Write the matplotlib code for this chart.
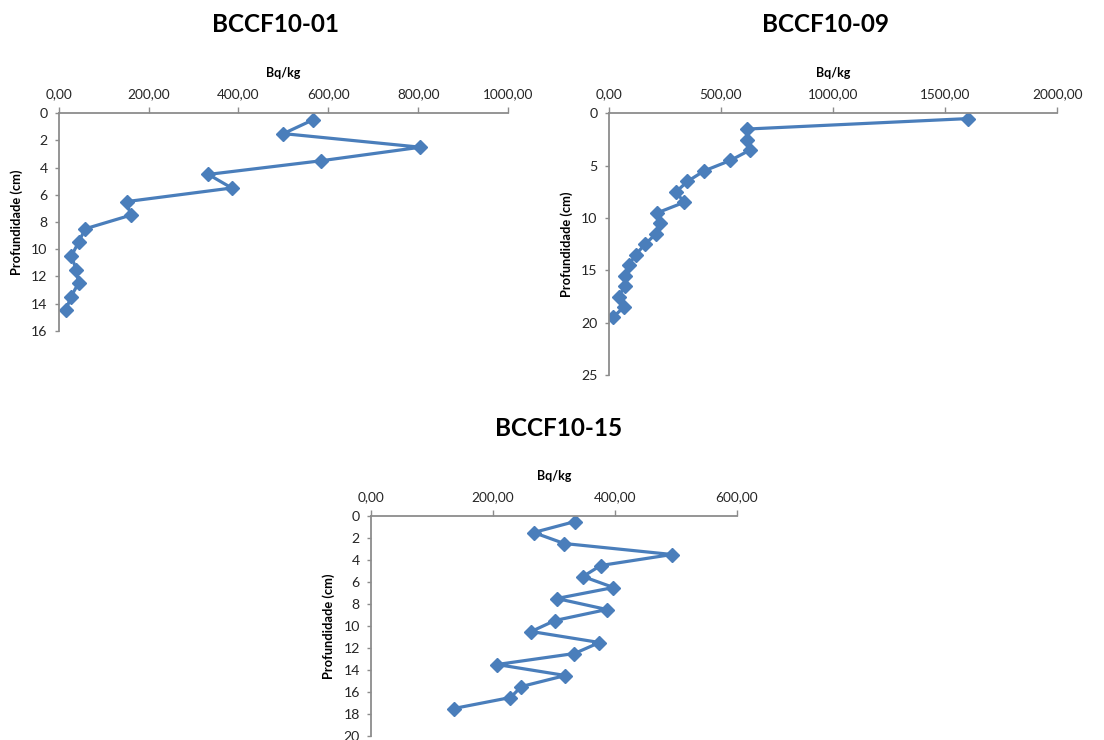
import matplotlib
matplotlib.use("Agg")
import matplotlib.pyplot as plt
from matplotlib.ticker import FuncFormatter, MultipleLocator

plt.rcParams['font.family'] = ['Lato', 'DejaVu Sans']

# depth (cm) and activity (Bq/kg) per core
depth_01 = [0.5, 1.5, 2.5, 3.5, 4.5, 5.5, 6.5, 7.5, 8.5, 9.5, 10.5, 11.5, 12.5, 13.5, 14.5]
bq_01 = [565, 500, 805, 583, 333, 385, 151, 160, 59, 44, 28, 39, 44, 27, 16]

depth_09 = [0.5, 1.5, 2.5, 3.5, 4.5, 5.5, 6.5, 7.5, 8.5, 9.5, 10.5, 11.5, 12.5, 13.5,
            14.5, 15.5, 16.5, 17.5, 18.5, 19.5]
bq_09 = [1600, 615, 615, 630, 542, 425, 351, 300, 336, 217, 229, 211, 162, 120,
         89, 74, 71, 45, 68, 18]

depth_15 = [0.5, 1.5, 2.5, 3.5, 4.5, 5.5, 6.5, 7.5, 8.5, 9.5, 10.5, 11.5, 12.5, 13.5,
            14.5, 15.5, 16.5, 17.5]
bq_15 = [335, 267, 317, 494, 377, 348, 398, 305, 387, 302, 263, 375, 334, 207,
         319, 247, 229, 136]

BLUE = '#4a7ebb'
GREY = '#8c8c8c'

comma_fmt = FuncFormatter(lambda v, p: f"{v:.2f}".replace('.', ','))

fig = plt.figure(figsize=(11.04, 7.4), dpi=100)


def profile(rect, x, y, xmax, xstep, ymax, ystep, title, title_xy):
    ax = fig.add_axes(rect)
    ax.plot(x, y, color=BLUE, lw=2.3, marker='D', ms=7, mec=BLUE, mfc=BLUE)
    ax.set_xlim(0, xmax)
    ax.set_ylim(ymax, 0)
    ax.xaxis.set_major_locator(MultipleLocator(xstep))
    ax.yaxis.set_major_locator(MultipleLocator(ystep))
    ax.xaxis.set_major_formatter(comma_fmt)
    ax.xaxis.tick_top()
    ax.xaxis.set_label_position('top')
    for s in ['right', 'bottom']:
        ax.spines[s].set_visible(False)
    for s in ['top', 'left']:
        ax.spines[s].set_color(GREY)
        ax.spines[s].set_linewidth(1.3)
    ax.tick_params(axis='x', length=4.5, width=1, color=GREY, pad=5,
                   labelsize=9.8, labelcolor='#262626')
    ax.tick_params(axis='y', length=3, width=1, color=GREY, pad=5,
                   labelsize=10.2, labelcolor='#262626')
    ax.set_xlabel('Bq/kg', fontsize=9, fontweight='bold', labelpad=8)
    ax.set_ylabel('Profundidade (cm)', fontsize=9.3, fontweight='bold', labelpad=6)
    fig.text(title_xy[0], title_xy[1], title, fontsize=17.5, fontweight='bold',
             ha='center', va='center')
    return ax


profile([0.0532, 0.553, 0.407, 0.294], bq_01, depth_01, 1000, 200, 16, 2,
        'BCCF10-01', (276 / 1104, 1 - 24 / 740))
profile([0.5514, 0.4932, 0.4063, 0.3536], bq_09, depth_09, 2000, 500, 25, 5,
        'BCCF10-09', (826 / 1104, 1 - 24 / 740))
profile([0.336, 0.0054, 0.3312, 0.2973], bq_15, depth_15, 600, 200, 20, 2,
        'BCCF10-15', (559 / 1104, 1 - 428 / 740))

fig.savefig('out.png', dpi=100)
